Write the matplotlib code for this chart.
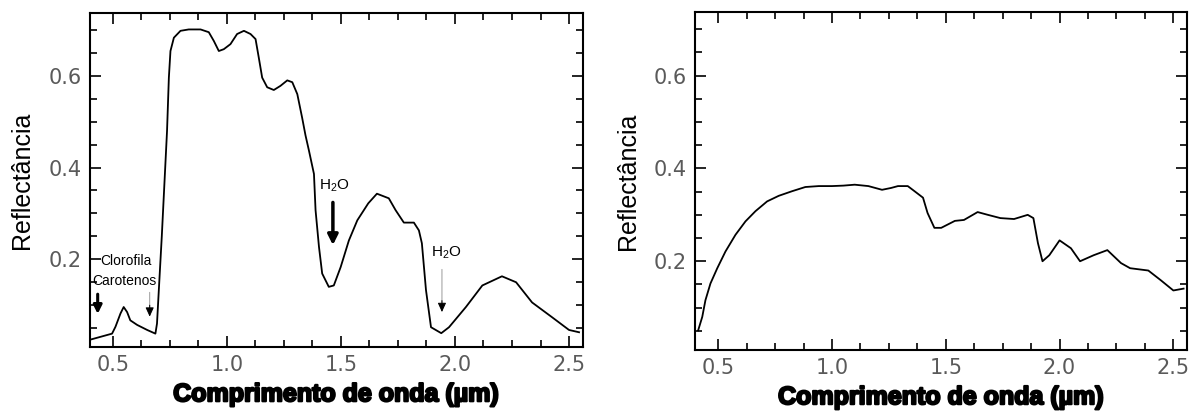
import numpy as np
import matplotlib.pyplot as plt
import matplotlib.patheffects as pe
from matplotlib.ticker import MultipleLocator

plt.rcParams['font.family'] = ['Liberation Sans', 'DejaVu Sans']
plt.rcParams['mathtext.fontset'] = 'custom'
plt.rcParams['mathtext.rm'] = 'Liberation Sans'
plt.rcParams['mathtext.it'] = 'Liberation Sans'

# vegetacao (painel esquerdo)
wl_veg = [0.395, 0.446, 0.497, 0.512, 0.534, 0.548, 0.563, 0.577, 0.607, 0.651,
          0.687, 0.694, 0.702, 0.715, 0.738, 0.746, 0.753, 0.768, 0.797, 0.833,
          0.885, 0.921, 0.943, 0.965, 0.987, 1.016, 1.045, 1.075, 1.104, 1.126,
          1.14, 1.155, 1.177, 1.206, 1.235, 1.265, 1.287, 1.309, 1.33, 1.345,
          1.36, 1.382, 1.389, 1.404, 1.418, 1.447, 1.469, 1.499, 1.535, 1.572,
          1.62, 1.658, 1.71, 1.74, 1.776, 1.82, 1.842, 1.855, 1.873, 1.895,
          1.94, 1.974, 2.048, 2.12, 2.206, 2.268, 2.338, 2.425, 2.5, 2.544]
ref_veg = [0.024, 0.031, 0.038, 0.053, 0.082, 0.096, 0.085, 0.067, 0.057, 0.046,
           0.038, 0.06, 0.133, 0.25, 0.48, 0.596, 0.654, 0.683, 0.698, 0.701,
           0.701, 0.695, 0.676, 0.654, 0.658, 0.669, 0.691, 0.698, 0.691, 0.68,
           0.64, 0.596, 0.575, 0.569, 0.578, 0.59, 0.586, 0.56, 0.509, 0.470,
           0.437, 0.386, 0.307, 0.227, 0.169, 0.14, 0.143, 0.183, 0.241, 0.285,
           0.322, 0.343, 0.333, 0.307, 0.28, 0.28, 0.263, 0.235, 0.133, 0.052,
           0.039, 0.052, 0.096, 0.143, 0.163, 0.15, 0.106, 0.074, 0.046, 0.041]

# solo (painel direito)
wl_solo = [0.412, 0.43, 0.444, 0.466, 0.496, 0.532, 0.576, 0.62, 0.664, 0.715,
           0.766, 0.825, 0.883, 0.942, 1.0, 1.05, 1.10, 1.16, 1.22, 1.26, 1.29,
           1.333, 1.36, 1.40, 1.42, 1.45, 1.48, 1.54, 1.58, 1.64, 1.685, 1.74,
           1.80, 1.86, 1.885, 1.905, 1.925, 1.955, 2.00, 2.05, 2.09, 2.15, 2.21,
           2.27, 2.31, 2.39, 2.445, 2.50, 2.545]
ref_solo = [0.051, 0.08, 0.116, 0.152, 0.185, 0.221, 0.257, 0.286, 0.308, 0.329,
            0.341, 0.351, 0.36, 0.362, 0.362, 0.363, 0.365, 0.362, 0.354, 0.358, 0.362,
            0.362, 0.352, 0.337, 0.304, 0.272, 0.272, 0.287, 0.289, 0.306, 0.30, 0.293,
            0.291, 0.30, 0.293, 0.239, 0.20, 0.213, 0.245, 0.228, 0.20, 0.213, 0.224,
            0.196, 0.185, 0.18, 0.159, 0.137, 0.141]

xticks = [0.5, 1.0, 1.5, 2.0, 2.5]
yticks = [0.2, 0.4, 0.6]

fig = plt.figure(figsize=(11.99, 4.17), dpi=100)
ax1 = fig.add_axes([0.075, 0.168, 0.411, 0.801])
ax2 = fig.add_axes([0.580, 0.161, 0.410, 0.810])

for ax in (ax1, ax2):
    ax.set_xlim(0.40, 2.56)
    ax.set_ylim(0.009, 0.737)
    ax.set_xticks(xticks)
    ax.set_xticklabels(['%.1f' % v for v in xticks], family='DejaVu Sans')
    ax.set_yticks(yticks)
    ax.set_yticklabels(['%.1f' % v for v in yticks], family='DejaVu Sans')
    ax.xaxis.set_minor_locator(MultipleLocator(0.125))
    ax.yaxis.set_minor_locator(MultipleLocator(0.05))
    ax.tick_params(which='both', direction='in', top=True, right=True,
                   width=1.2, color='black')
    ax.tick_params(which='major', length=8, labelsize=15, labelcolor='#5a5a5a', pad=6)
    ax.tick_params(which='minor', length=5)
    for s in ax.spines.values():
        s.set_linewidth(1.5)
    ax.set_ylabel('Reflectância', fontsize=18, labelpad=10)
    xl = ax.set_xlabel('Comprimento de onda (µm)', fontsize=18, fontweight='bold', labelpad=5)
    xl.set_path_effects([pe.withStroke(linewidth=1.6, foreground='black')])

ax1.plot(wl_veg, ref_veg, color='black', lw=1.3)
ax2.plot(wl_solo, ref_solo, color='black', lw=1.3)

# anotacoes
thick = dict(arrowstyle='-|>,head_length=0.6,head_width=0.3', lw=2.5, color='black')
thin_line = dict(arrowstyle='-', lw=0.7, color='#999999', shrinkA=0, shrinkB=0)
thin_head = dict(arrowstyle='-|>,head_length=0.55,head_width=0.25', lw=0.7,
                 color='black', shrinkA=0, shrinkB=0)

ax1.text(1.47, 0.36, 'H$_2$O', fontsize=11, ha='center', va='center')
ax1.annotate('', xy=(1.465, 0.225), xytext=(1.465, 0.33), arrowprops=thick)

ax1.text(1.96, 0.215, 'H$_2$O', fontsize=11, ha='center', va='center')
ax1.annotate('', xy=(1.943, 0.09), xytext=(1.943, 0.178), arrowprops=thin_line)
ax1.annotate('', xy=(1.943, 0.085), xytext=(1.943, 0.11), arrowprops=thin_head)

ax1.text(0.447, 0.196, 'Clorofila', fontsize=10, ha='left', va='center')
ax1.text(0.412, 0.152, 'Carotenos', fontsize=10, ha='left', va='center')
ax1.annotate('', xy=(0.434, 0.075), xytext=(0.434, 0.13),
             arrowprops=dict(arrowstyle='-|>,head_length=0.5,head_width=0.25',
                             lw=2.2, color='black'))
ax1.annotate('', xy=(0.662, 0.08), xytext=(0.662, 0.128), arrowprops=thin_line)
ax1.annotate('', xy=(0.662, 0.075), xytext=(0.662, 0.10), arrowprops=thin_head)

fig.savefig('out.png', dpi=100)
